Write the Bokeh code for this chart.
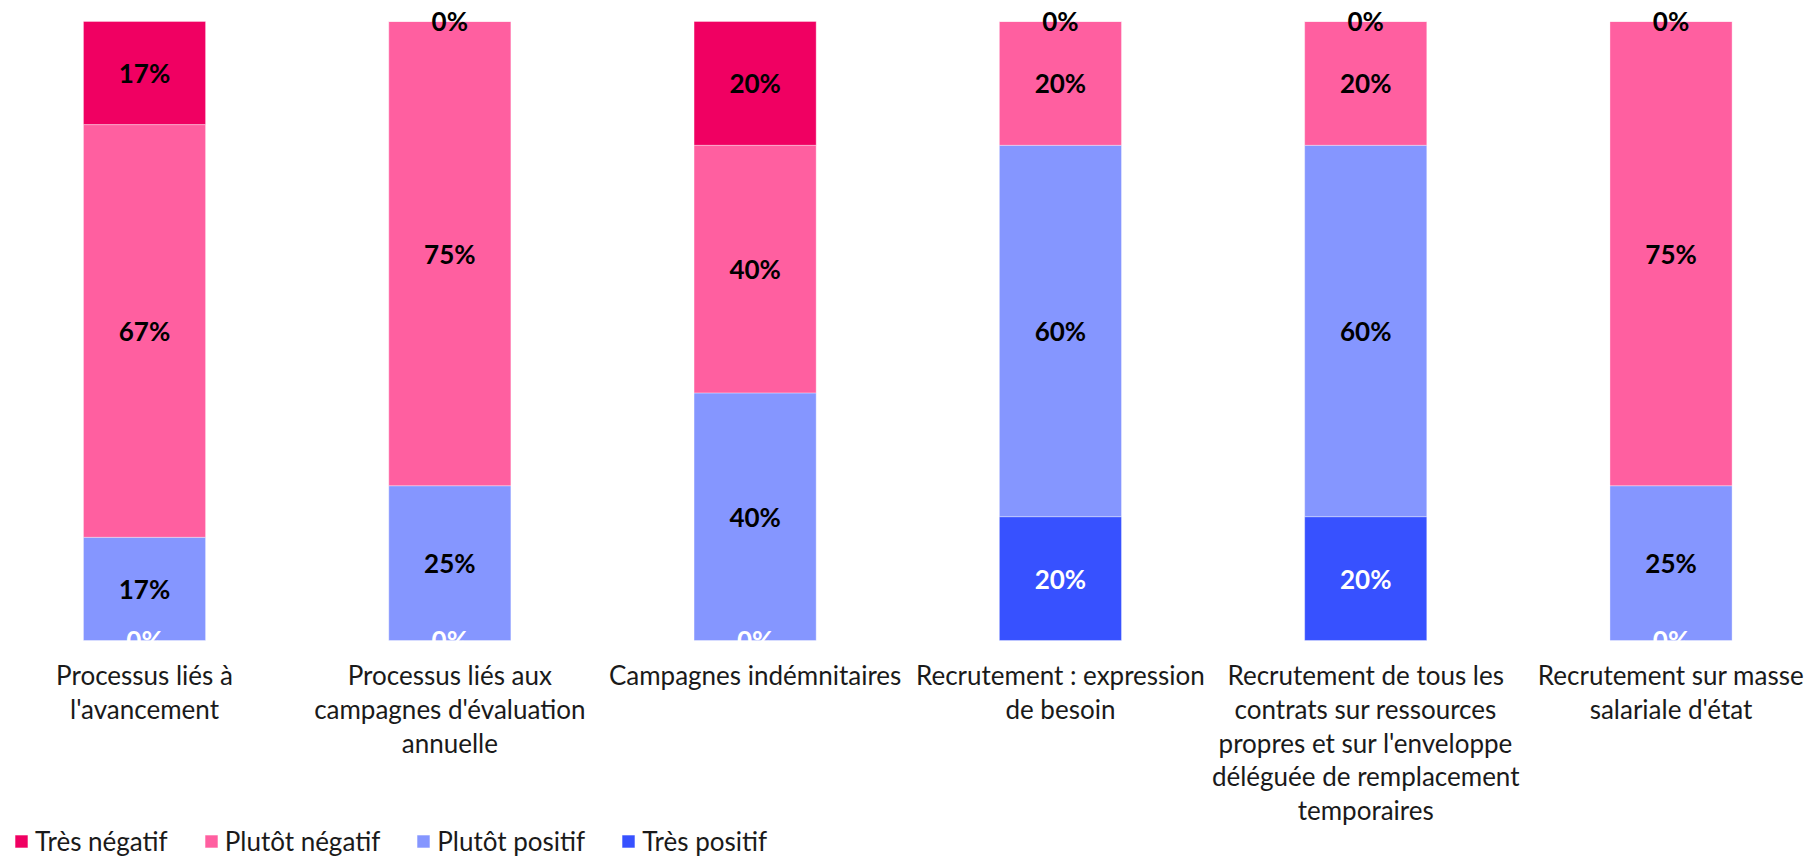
from bokeh.plotting import figure
from bokeh.models import ColumnDataSource, Range1d, Legend, LegendItem
from bokeh.core.properties import value
from bokeh.embed import file_html
from bokeh.resources import INLINE

categories = [
    "Processus liés à\nl'avancement",
    "Processus liés aux\ncampagnes d'évaluation\nannuelle",
    "Campagnes indémnitaires",
    "Recrutement : expression\nde besoin",
    "Recrutement de tous les\ncontrats sur ressources\npropres et sur l'enveloppe\ndéléguée de remplacement\ntemporaires",
    "Recrutement sur masse\nsalariale d'état",
]
series_names = ["Très positif", "Plutôt positif", "Plutôt négatif", "Très négatif"]
tres_positif = [0, 0, 0, 20, 20, 0]
plutot_positif = [16.67, 25, 40, 60, 60, 25]
plutot_negatif = [66.67, 75, 40, 20, 20, 75]
tres_negatif = [16.67, 0, 20, 0, 0, 0]
colors = ["#3751FF", "#8596FF", "#FF5FA0", "#F00062"]
label_colors = ["white", "black", "black", "black"]

FONT = "Lato"
series_values = [tres_positif, plutot_positif, plutot_negatif, tres_negatif]
xs = [i + 0.5 for i in range(len(categories))]

data = {"x": xs}
for name, vals in zip(series_names, series_values):
    data[name] = vals
source = ColumnDataSource(data)

p = figure(frame_width=1807, frame_height=857,
           x_range=Range1d(0.0283, 5.947), y_range=Range1d(-35.06, 103.39),
           output_backend="svg", toolbar_location=None,
           min_border=0, x_axis_location=None, y_axis_location=None)
p.grid.visible = False
p.outline_line_color = None

renderers = p.vbar_stack(series_names, x="x", width=0.40, source=source,
                         color=colors, line_color="white", line_width=0.6, line_alpha=0.6)

# segment labels
lx, ly, lt, lc = [], [], [], []
for i in range(len(categories)):
    bottom = 0
    for vals, col in zip(series_values, label_colors):
        v = vals[i]
        lx.append(xs[i])
        ly.append(bottom + v / 2)
        lt.append(f"{round(v)}%")
        lc.append(col)
        bottom += v
lab_src = ColumnDataSource(dict(x=lx, y=ly, t=lt, c=lc))
p.text(x="x", y="y", text="t", source=lab_src, text_color="c",
       text_align="center", text_baseline="middle",
       text_font=value(FONT), text_font_style="bold", text_font_size="26px")

# category labels under the bars
cat_src = ColumnDataSource(dict(x=xs, y=[0] * len(xs), t=categories))
p.text(x="x", y="y", text="t", source=cat_src, y_offset=19,
       text_align="center", text_baseline="top", text_line_height=1.05,
       text_font=value(FONT), text_font_size="26px", text_color="#1a1a1a")

items = [LegendItem(label=n, renderers=[r]) for n, r in zip(series_names[::-1], renderers[::-1])]
legend = Legend(items=items, orientation="horizontal", location=(13, 0),
                label_text_font=FONT, label_text_font_size="26px", label_text_color="#1a1a1a",
                glyph_width=16, glyph_height=16, label_standoff=6, spacing=35,
                padding=0, margin=0, border_line_color=None, background_fill_alpha=0)
p.add_layout(legend, "center")

open("out.html", "w").write(file_html(p, INLINE))
